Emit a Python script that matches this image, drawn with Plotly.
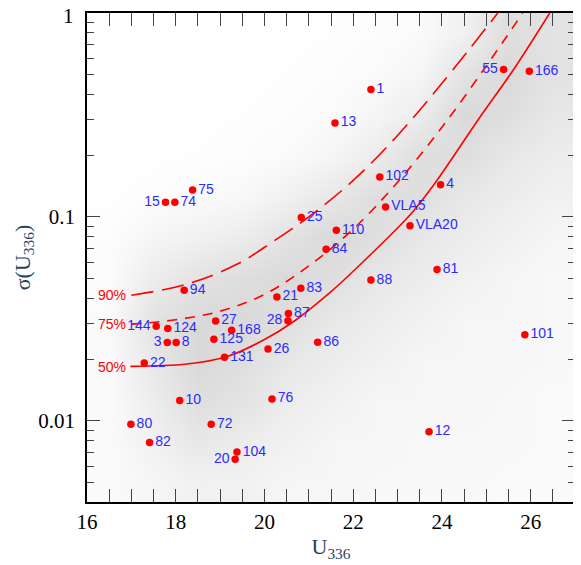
import plotly.graph_objects as go
import numpy as np

# labelled sources (U336 magnitude, sigma)
src_id = ["1", "13", "75", "15", "74", "25", "110", "84", "102", "VLA5", "VLA20", "4",
          "55", "166", "81", "88", "83", "21", "87", "28", "94", "27", "144", "124",
          "168", "3", "8", "125", "131", "22", "26", "86", "101", "10", "76", "80",
          "72", "82", "104", "20", "12"]
src_u = [22.40, 21.59, 18.38, 17.77, 17.98, 20.83, 21.62, 21.39, 22.60, 22.73, 23.28, 23.97,
         25.39, 25.97, 23.89, 22.40, 20.82, 20.28, 20.54, 20.53, 18.19, 18.90, 17.56, 17.82,
         19.26, 17.81, 18.01, 18.86, 19.10, 17.29, 20.08, 21.20, 25.87, 18.09, 20.17, 16.99,
         18.80, 17.41, 19.38, 19.34, 23.71]
src_sig = [0.422, 0.289, 0.1355, 0.118, 0.118, 0.0993, 0.0861, 0.0695, 0.157, 0.112, 0.0904, 0.144,
           0.528, 0.518, 0.0552, 0.0490, 0.0447, 0.0405, 0.0336, 0.031, 0.0437, 0.0309, 0.0291, 0.0284,
           0.0278, 0.0242, 0.0242, 0.0251, 0.0205, 0.0192, 0.0225, 0.0243, 0.0264, 0.0126, 0.0128, 0.00963,
           0.00963, 0.00783, 0.00703, 0.00649, 0.00883]
left_labels = ["15", "144", "3", "20", "28", "55"]

# completeness curves
c50_u = [16.98, 18.25, 19.16, 19.98, 20.66, 21.50, 22.33, 23.31, 23.81, 24.86, 25.62, 26.43]
c50_s = [0.0185, 0.019, 0.0207, 0.0249, 0.0307, 0.043, 0.0634, 0.104, 0.143, 0.309, 0.53, 1.0]
c75_u = [17.0, 18.0, 19.0, 20.0, 21.0, 22.0, 23.0, 24.0, 25.0, 25.82]
c75_s = [0.0298, 0.0313, 0.0345, 0.0417, 0.0575, 0.0871, 0.148, 0.275, 0.55, 1.0]
c90_u = [17.0, 18.25, 19.4, 20.2, 21.0, 22.0, 23.0, 24.0, 25.26]
c90_s = [0.0413, 0.0468, 0.0589, 0.0759, 0.100, 0.151, 0.251, 0.452, 1.0]

# density of the field-star cloud, estimated by eye (relative, 0-10)
dens_u = [16.5, 17.5, 18.5, 19.5, 20.5, 21.5, 22.5, 23.5, 24.5, 25.5, 26.5]
dens_logsig = [-2.3, -2.1, -1.9, -1.7, -1.5, -1.3, -1.1, -0.9, -0.7, -0.5, -0.3, -0.1]
dens = [
    [1.0, 2.0, 3.0, 3.0, 2.0, 2.0, 1.5, 1.5, 1.5, 1.0, 1.0],
    [1.0, 3.0, 5.0, 4.0, 3.0, 2.0, 2.0, 1.5, 1.5, 1.5, 1.0],
    [1.0, 4.0, 7.0, 6.0, 4.0, 3.0, 2.0, 2.0, 2.0, 1.5, 1.0],
    [1.0, 5.0, 8.0, 7.0, 5.0, 4.0, 3.0, 2.0, 2.0, 2.0, 1.5],
    [1.0, 6.0, 8.0, 8.0, 7.0, 5.0, 4.0, 3.0, 2.0, 2.0, 1.5],
    [0.8, 4.0, 6.0, 7.0, 8.0, 7.0, 5.0, 4.0, 3.0, 2.0, 1.5],
    [0.5, 2.0, 3.0, 4.0, 6.0, 8.0, 7.0, 5.0, 4.0, 3.0, 2.0],
    [0.2, 0.5, 1.0, 1.5, 3.0, 5.0, 7.0, 7.0, 5.0, 4.0, 3.0],
    [0.1, 0.2, 0.3, 0.5, 1.0, 2.0, 4.0, 7.0, 7.0, 5.0, 4.0],
    [0.1, 0.2, 0.2, 0.3, 0.5, 1.0, 2.0, 4.0, 8.0, 7.0, 5.0],
    [0.0, 0.1, 0.2, 0.2, 0.3, 0.5, 1.0, 2.0, 6.0, 8.0, 6.0],
    [0.0, 0.1, 0.1, 0.1, 0.2, 0.3, 0.5, 1.0, 3.0, 7.0, 6.0],
]

pct_labels = ["90%", "75%", "50%"]
pct_sig = [0.0413, 0.0298, 0.0184]

RED = "#ff0000"
BLUE = "#2b2bff"
ymin, ymax = np.log10(0.004), 0.0

fig = go.Figure()

# field stars as a density layer (base axes, log10 sigma)
fig.add_trace(go.Heatmap(x=dens_u, y=dens_logsig, z=dens, zmin=0, zmax=10, zsmooth="best",
                         colorscale=[[0, "rgb(255,255,255)"], [1, "rgb(208,208,208)"]],
                         showscale=False, hoverinfo="skip", xaxis="x", yaxis="y"))

# curves
for cu, cs, dash in [(c50_u, c50_s, "solid"), (c75_u, c75_s, "10px,8px"), (c90_u, c90_s, "22px,9px")]:
    fig.add_trace(go.Scatter(x=cu, y=cs, mode="lines", line=dict(color=RED, width=1.6, dash=dash, shape="spline"),
                             showlegend=False, hoverinfo="skip", xaxis="x", yaxis="y2"))

# sources
right = [i for i, s in enumerate(src_id) if s not in left_labels]
left = [i for i, s in enumerate(src_id) if s in left_labels]
for idx, pos in [(right, "middle right"), (left, "middle left")]:
    fig.add_trace(go.Scatter(x=[src_u[i] for i in idx], y=[src_sig[i] for i in idx],
                             text=[src_id[i] for i in idx], mode="markers+text", textposition=pos,
                             marker=dict(color=RED, size=7.5),
                             textfont=dict(family="Liberation Sans", size=14, color=BLUE),
                             showlegend=False, xaxis="x", yaxis="y2"))

for t, s in zip(pct_labels, pct_sig):
    fig.add_annotation(x=16.93, y=np.log10(s), xref="x", yref="y2", text=t, showarrow=False,
                       xanchor="right", font=dict(family="Liberation Sans", size=14, color=RED))

axis_font = dict(family="Liberation Serif", size=21, color="black")

# top "1" label sits right at the page edge; drawn as an annotation nudged down so it is not clipped
fig.add_annotation(x=0, y=1, xref="paper", yref="paper", text="1", showarrow=False,
                   xanchor="right", yanchor="middle", xshift=-12, yshift=-3, borderpad=0,
                   font=axis_font)

# the page body adds an 8px offset, so the figure is sized and placed to land on the same pixels
fig.update_layout(
    width=573, height=557,
    margin=dict(l=79, r=6, t=5, b=63),
    paper_bgcolor="white", plot_bgcolor="white",
    showlegend=False,
    xaxis=dict(range=[16, 27], tick0=16, dtick=2, ticks="inside", ticklen=13, tickwidth=1.3,
               showline=True, linecolor="black", linewidth=1.5, mirror="allticks",
               showgrid=False, zeroline=False, tickfont=axis_font, automargin=False,
               minor=dict(dtick=0.5, ticks="inside", ticklen=7, tickwidth=1.2, showgrid=False),
               title=dict(text="U<sub>336</sub>", font=dict(family="Liberation Serif", size=22), standoff=4)),
    yaxis=dict(range=[ymin, ymax], visible=False, showgrid=False, zeroline=False, automargin=False),
    yaxis2=dict(type="log", range=[ymin, ymax], overlaying="y", side="left", anchor="x",
                tickvals=[0.01, 0.1, 1], ticktext=["0.01", "0.1", ""],
                ticks="inside", ticklen=13, tickwidth=1.3, automargin=False,
                ticklabelstandoff=6,
                showline=True, linecolor="black", linewidth=1.5, mirror="allticks",
                showgrid=False, zeroline=False, tickfont=axis_font,
                minor=dict(dtick="D1", ticks="inside", ticklen=7, tickwidth=1.2, showgrid=False),
                title=dict(text="σ(U<sub>336</sub>)", font=dict(family="Liberation Serif", size=22), standoff=2)),
)

fig.write_html("out.html")
